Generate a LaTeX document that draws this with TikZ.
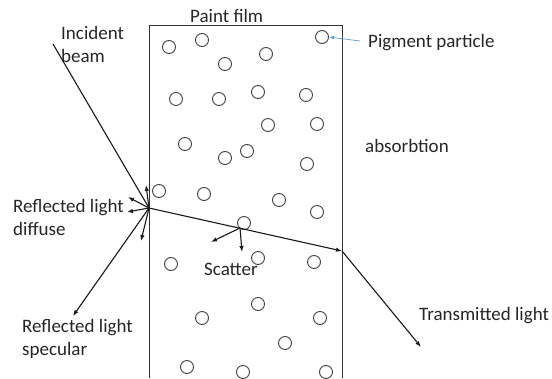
\documentclass[tikz,border=0pt]{standalone}
\usepackage{fontspec}
\setmainfont{Carlito}
\usetikzlibrary{arrows.meta}
\definecolor{pigblue}{RGB}{91,155,213}
\begin{document}
\begin{tikzpicture}[x=1pt,y=-1pt,
  lbl/.style={anchor=base west, inner sep=0pt, font=\fontsize{19}{23}\selectfont, text=black!85},
  particle/.style={circle, draw=black!75, line width=0.9pt, minimum size=13pt, inner sep=0pt},
  film/.style={draw=black!80, line width=1pt},
  ray/.style={line width=1.1pt, draw=black!90},
  rayarrow/.style={ray, -{Latex[length=6pt,width=4.5pt]}},
  pointer/.style={draw=pigblue, line width=0.7pt, -{Latex[length=5pt,width=3.5pt]}}]
\useasboundingbox (0,0) rectangle (552,378);
\clip (0,0) rectangle (552,378);
% film
\draw[film] (149,378) -- (149,25) -- (342,25) -- (342,378);
% particles
\foreach \x/\y [count=\i] in {169/47, 202/40, 225/64, 266/54, 322/37, 176/99, 219/99, 258/92, 306/95, 268/125,
  317/124, 185/144, 225/158, 247/151, 307/164, 159/191, 204/194, 279/200, 317/212, 244/223,
  171/264, 258/258, 314/262, 202/318, 258/304, 320/318, 285/343, 187/367, 243/372, 326/372}
  \node[particle] (p\i) at (\x,\y) {};
% key points
\coordinate (src) at (53,44);
\coordinate (hit) at (149,208);
\coordinate (exit) at (342,251);
\coordinate (sc) at (240,228);
\coordinate (trans) at (421,347);
\coordinate (spec) at (73,316);
\coordinate (d1) at (146,185);
\coordinate (d2) at (128,197);
\coordinate (d3) at (127,212);
\coordinate (d4) at (141,241);
\coordinate (s1) at (211,242);
\coordinate (s2) at (242,252);
\coordinate (pp) at (360,41);
% rays
\draw[ray] (src) -- (hit);
\draw[rayarrow] (hit) -- (exit);
\draw[rayarrow] (exit) -- (trans);
\draw[rayarrow] (hit) -- (spec);
\foreach \d in {d1,d2,d3,d4} \draw[rayarrow] (hit) -- (\d);
\draw[rayarrow] (sc) -- (s1);
\draw[rayarrow] (sc) -- (s2);
\draw[pointer] (pp) -- (p5.east);
% labels
\node[lbl] (inc1) at (61,39) {Incident};
\node[lbl] (inc2) at (61,62) {beam};
\node[lbl] (film) at (190,22) {Paint film};
\node[lbl] (pig) at (368,47) {Pigment particle};
\node[lbl] (abs) at (365,152) {absorbtion};
\node[lbl] (rd1) at (13,212) {Reflected light};
\node[lbl] (rd2) at (13,235) {diffuse};
\node[lbl] (scat) at (204,275) {Scatter};
\node[lbl] (tl) at (419,320) {Transmitted light};
\node[lbl] (rs1) at (22,332) {Reflected light};
\node[lbl] (rs2) at (22,355) {specular};
\end{tikzpicture}
\end{document}
